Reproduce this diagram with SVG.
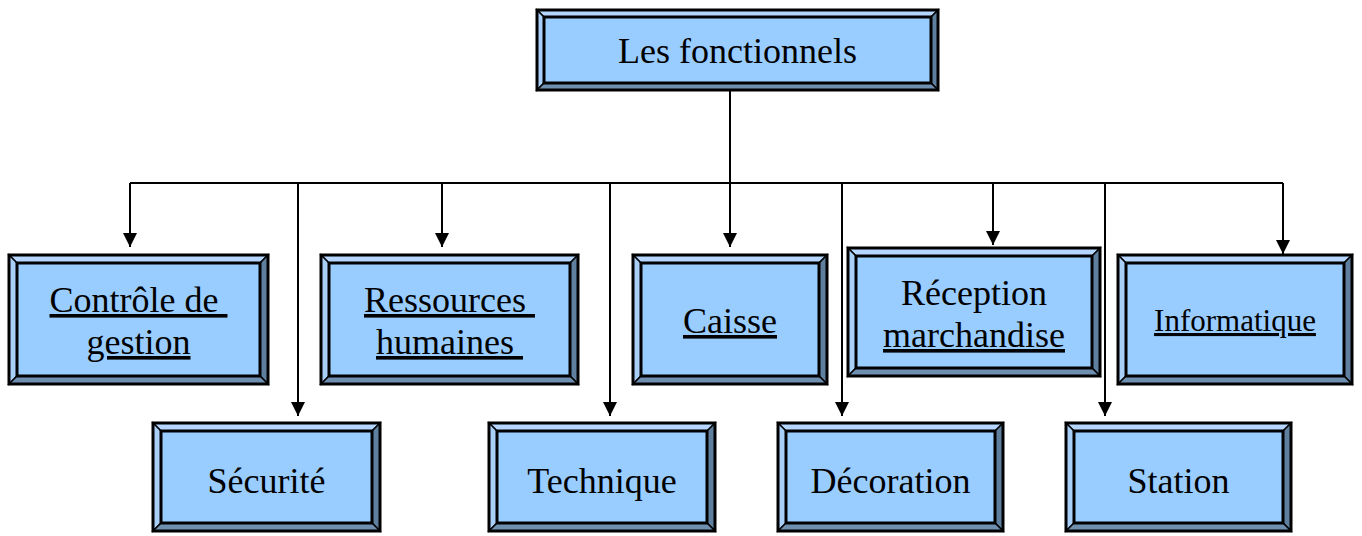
<svg xmlns="http://www.w3.org/2000/svg" width="1362" height="536" viewBox="0 0 1362 536">
<style>
.face{fill:#99ccff}
.lt{fill:#b5d6ff;stroke:#000;stroke-width:1.5}
.lt2{fill:#a8cff8;stroke:#000;stroke-width:1.5}
.dk{fill:#5f7f9f;stroke:#000;stroke-width:1.5}
.dk2{fill:#6f8fb0;stroke:#000;stroke-width:1.5}
.edge{fill:none;stroke:#000;stroke-width:3}
.in{fill:#99ccff;stroke:#000;stroke-width:3}
.t{font-family:"Liberation Serif","Times New Roman",serif;font-size:36px;fill:#000;text-anchor:middle}
.s{font-size:31px}
.u{text-decoration:underline}
.c{fill:none;stroke:#000;stroke-width:2}
</style>
<defs>
<marker id="ah" markerUnits="userSpaceOnUse" markerWidth="14" markerHeight="14" refX="14" refY="7" orient="auto">
<path d="M0,0 L14,7 L0,14 z" fill="#000"/>
</marker>
</defs>
<g id="connectors" class="c">
<path d="M730,90 V247" marker-end="url(#ah)"/>
<path d="M130,183 H1283"/>
<path d="M130,183 V247" marker-end="url(#ah)"/>
<path d="M298,183 V416" marker-end="url(#ah)"/>
<path d="M442,183 V247" marker-end="url(#ah)"/>
<path d="M610,183 V416" marker-end="url(#ah)"/>
<path d="M842,183 V416" marker-end="url(#ah)"/>
<path d="M993,183 V245" marker-end="url(#ah)"/>
<path d="M1105,183 V416" marker-end="url(#ah)"/>
<path d="M1283,183 V254" marker-end="url(#ah)"/>
</g>
<g id="n-fonctionnels" transform="translate(537,10)">
<rect class="face" width="401" height="80"/>
<polygon class="lt" points="0,0 401,0 394,7 7,7"/>
<polygon class="lt2" points="0,0 7,7 7,73 0,80"/>
<polygon class="dk" points="401,0 401,80 394,73 394,7"/>
<polygon class="dk2" points="0,80 7,73 394,73 401,80"/>
<rect class="in" x="7" y="7" width="387" height="66"/>
<rect class="edge" width="401" height="80"/>
<text class="t" x="200.5" y="53">Les fonctionnels</text>
</g>
<g id="n-controle" transform="translate(9,255)">
<rect class="face" width="259" height="129"/>
<polygon class="lt" points="0,0 259,0 251,8 8,8"/>
<polygon class="lt2" points="0,0 8,8 8,121 0,129"/>
<polygon class="dk" points="259,0 259,129 251,121 251,8"/>
<polygon class="dk2" points="0,129 8,121 251,121 259,129"/>
<rect class="in" x="8" y="8" width="243" height="113"/>
<rect class="edge" width="259" height="129"/>
<text class="t u" x="129.5" y="57" xml:space="preserve">Contrôle de </text>
<text class="t u" x="129.5" y="99">gestion</text>
</g>
<g id="n-ressources" transform="translate(321,255)">
<rect class="face" width="257" height="129"/>
<polygon class="lt" points="0,0 257,0 249,8 8,8"/>
<polygon class="lt2" points="0,0 8,8 8,121 0,129"/>
<polygon class="dk" points="257,0 257,129 249,121 249,8"/>
<polygon class="dk2" points="0,129 8,121 249,121 257,129"/>
<rect class="in" x="8" y="8" width="241" height="113"/>
<rect class="edge" width="257" height="129"/>
<text class="t u" x="128.5" y="57" xml:space="preserve">Ressources </text>
<text class="t u" x="128.5" y="99" xml:space="preserve">humaines </text>
</g>
<g id="n-caisse" transform="translate(633,255)">
<rect class="face" width="194" height="129"/>
<polygon class="lt" points="0,0 194,0 186,8 8,8"/>
<polygon class="lt2" points="0,0 8,8 8,121 0,129"/>
<polygon class="dk" points="194,0 194,129 186,121 186,8"/>
<polygon class="dk2" points="0,129 8,121 186,121 194,129"/>
<rect class="in" x="8" y="8" width="178" height="113"/>
<rect class="edge" width="194" height="129"/>
<text class="t u" x="97" y="78">Caisse</text>
</g>
<g id="n-reception" transform="translate(848,248)">
<rect class="face" width="252" height="128"/>
<polygon class="lt" points="0,0 252,0 244,8 8,8"/>
<polygon class="lt2" points="0,0 8,8 8,120 0,128"/>
<polygon class="dk" points="252,0 252,128 244,120 244,8"/>
<polygon class="dk2" points="0,128 8,120 244,120 252,128"/>
<rect class="in" x="8" y="8" width="236" height="112"/>
<rect class="edge" width="252" height="128"/>
<text class="t" x="126" y="57">Réception</text>
<text class="t u" x="126" y="99">marchandise</text>
</g>
<g id="n-informatique" transform="translate(1118,255)">
<rect class="face" width="234" height="129"/>
<polygon class="lt" points="0,0 234,0 226,8 8,8"/>
<polygon class="lt2" points="0,0 8,8 8,121 0,129"/>
<polygon class="dk" points="234,0 234,129 226,121 226,8"/>
<polygon class="dk2" points="0,129 8,121 226,121 234,129"/>
<rect class="in" x="8" y="8" width="218" height="113"/>
<rect class="edge" width="234" height="129"/>
<text class="t s u" x="117" y="76">Informatique</text>
</g>
<g id="n-securite" transform="translate(153,423)">
<rect class="face" width="227" height="108"/>
<polygon class="lt" points="0,0 227,0 219,8 8,8"/>
<polygon class="lt2" points="0,0 8,8 8,100 0,108"/>
<polygon class="dk" points="227,0 227,108 219,100 219,8"/>
<polygon class="dk2" points="0,108 8,100 219,100 227,108"/>
<rect class="in" x="8" y="8" width="211" height="92"/>
<rect class="edge" width="227" height="108"/>
<text class="t" x="113.5" y="70">Sécurité</text>
</g>
<g id="n-technique" transform="translate(489,423)">
<rect class="face" width="226" height="108"/>
<polygon class="lt" points="0,0 226,0 218,8 8,8"/>
<polygon class="lt2" points="0,0 8,8 8,100 0,108"/>
<polygon class="dk" points="226,0 226,108 218,100 218,8"/>
<polygon class="dk2" points="0,108 8,100 218,100 226,108"/>
<rect class="in" x="8" y="8" width="210" height="92"/>
<rect class="edge" width="226" height="108"/>
<text class="t" x="113" y="70">Technique</text>
</g>
<g id="n-decoration" transform="translate(778,423)">
<rect class="face" width="225" height="108"/>
<polygon class="lt" points="0,0 225,0 217,8 8,8"/>
<polygon class="lt2" points="0,0 8,8 8,100 0,108"/>
<polygon class="dk" points="225,0 225,108 217,100 217,8"/>
<polygon class="dk2" points="0,108 8,100 217,100 225,108"/>
<rect class="in" x="8" y="8" width="209" height="92"/>
<rect class="edge" width="225" height="108"/>
<text class="t" x="112.5" y="70">Décoration</text>
</g>
<g id="n-station" transform="translate(1066,423)">
<rect class="face" width="225" height="108"/>
<polygon class="lt" points="0,0 225,0 217,8 8,8"/>
<polygon class="lt2" points="0,0 8,8 8,100 0,108"/>
<polygon class="dk" points="225,0 225,108 217,100 217,8"/>
<polygon class="dk2" points="0,108 8,100 217,100 225,108"/>
<rect class="in" x="8" y="8" width="209" height="92"/>
<rect class="edge" width="225" height="108"/>
<text class="t" x="112.5" y="70">Station</text>
</g>
</svg>
